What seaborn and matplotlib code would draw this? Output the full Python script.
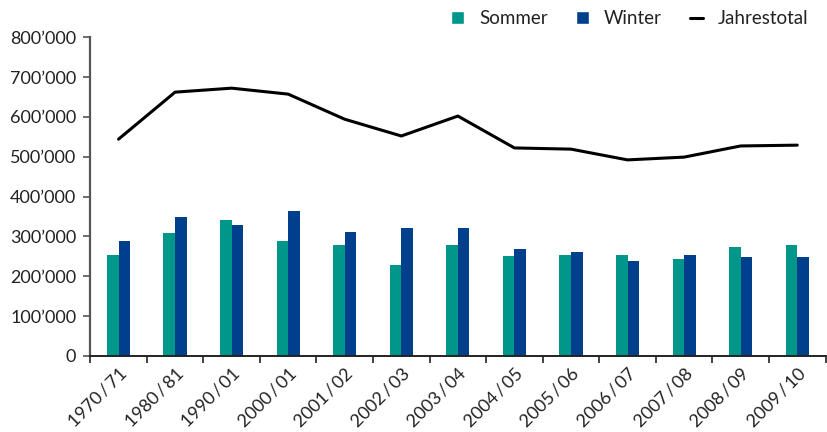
import matplotlib.pyplot as plt
import matplotlib.ticker as mticker
from matplotlib.lines import Line2D
from matplotlib.patches import Patch
import numpy as np
import pandas as pd
import seaborn as sns

saisons = ['1970\u2009/\u200971', '1980\u2009/\u200981', '1990\u2009/\u200901',
           '2000\u2009/\u200901', '2001\u2009/\u200902', '2002\u2009/\u200903',
           '2003\u2009/\u200904', '2004\u2009/\u200905', '2005\u2009/\u200906',
           '2006\u2009/\u200907', '2007\u2009/\u200908', '2008\u2009/\u200909',
           '2009\u2009/\u200910']
sommer = [253000, 308000, 341000, 288000, 278000, 228000, 278000, 251000, 253000, 253000,
          243000, 273000, 278000]
winter = [288000, 349000, 329000, 364000, 311000, 321000, 321000, 268000, 261000, 238000,
          253000, 248000, 248000]
jahrestotal = [544000, 662000, 672000, 657000, 594000, 552000, 602000, 522000, 519000,
               492000, 499000, 527000, 529000]

farben = {'Sommer': '#00968a', 'Winter': '#003f8c'}

df = pd.DataFrame({'Saison': saisons * 2,
                   'Wert': sommer + winter,
                   'Typ': ['Sommer'] * len(saisons) + ['Winter'] * len(saisons)})

sns.set_style('white')
plt.rcParams['font.family'] = ['Lato', 'DejaVu Sans']
plt.rcParams['text.color'] = '#222222'
plt.rcParams['xtick.color'] = '#222222'
plt.rcParams['ytick.color'] = '#222222'

fig = plt.figure(figsize=(8.28, 4.32), dpi=100)
ax = fig.add_axes([0.109, 0.176, 0.888, 0.738])

sns.barplot(data=df, x='Saison', y='Wert', hue='Typ', palette=farben, width=0.41,
            gap=0, saturation=1, linewidth=0, ax=ax, legend=False)
sns.lineplot(x=np.arange(len(saisons)), y=jahrestotal, color='black', linewidth=2.2, ax=ax)

ax.set_ylim(0, 800000)
ax.set_xlim(-0.5, len(saisons) - 0.5)
ax.yaxis.set_major_locator(mticker.MultipleLocator(100000))
ax.yaxis.set_major_formatter(mticker.FuncFormatter(
    lambda v, p: '0' if v == 0 else f'{int(v):,}'.replace(',', '\u2019')))
ax.set_xlabel('')
ax.set_ylabel('')

ax.set_xticks(np.arange(len(saisons)))
ax.set_xticklabels(saisons, rotation=45, ha='right', rotation_mode='anchor', fontsize=13)
ax.set_xticks(np.arange(len(saisons) + 1) - 0.5, minor=True)
ax.tick_params(axis='x', which='major', bottom=True, length=0, pad=7)
ax.tick_params(axis='x', which='minor', bottom=True, length=5, width=1.2, color='#222222',
               direction='out')
ax.tick_params(axis='y', left=True, length=5, width=1.2, color='#555555', direction='out',
               labelsize=13, pad=5)

for s in ['top', 'right']:
    ax.spines[s].set_visible(False)
ax.spines['left'].set_color('#555555')
ax.spines['left'].set_linewidth(1.6)
ax.spines['bottom'].set_color('#222222')
ax.spines['bottom'].set_linewidth(1.4)

handles = [Patch(facecolor=farben['Sommer'], label='Sommer'),
           Patch(facecolor=farben['Winter'], label='Winter'),
           Line2D([0], [0], color='black', linewidth=2.2, label='Jahrestotal')]
fig.legend(handles=handles, loc='upper right', bbox_to_anchor=(0.997, 1.015), ncol=3,
           frameon=False, fontsize=13.5, handlelength=0.7, handleheight=0.7,
           handletextpad=0.8, columnspacing=1.5)

fig.savefig('out.png', dpi=100)
